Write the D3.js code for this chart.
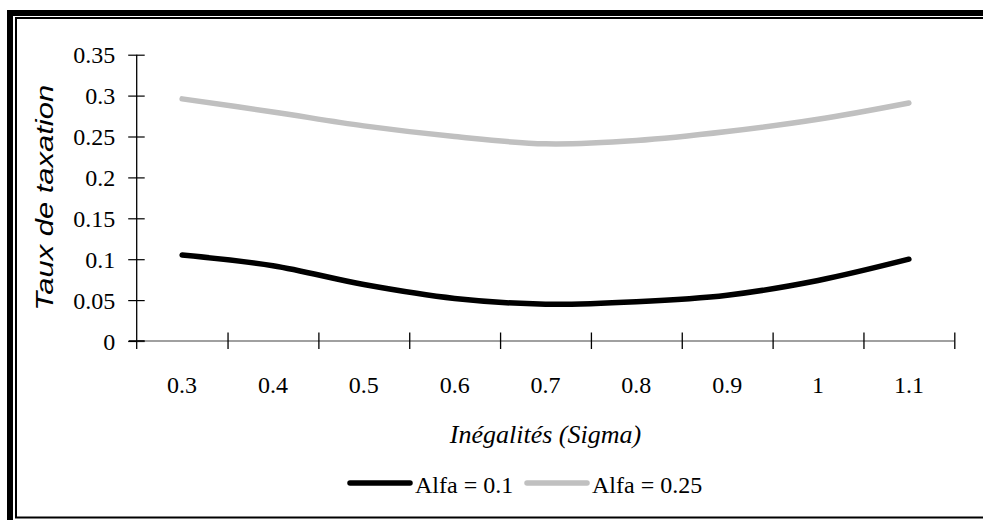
<!DOCTYPE html>
<html>
<head>
<meta charset="utf-8">
<script src="https://cdn.jsdelivr.net/npm/d3@7"></script>
<style>
html,body{margin:0;padding:0;background:#fff;overflow:hidden;}
svg{display:block;}
</style>
</head>
<body>
<svg id="chart" width="983" height="520"></svg>
<script>
const categories = ["0.3","0.4","0.5","0.6","0.7","0.8","0.9","1","1.1"];
const alfa01  = [0.105, 0.092, 0.069, 0.052, 0.045, 0.048, 0.056, 0.074, 0.100];
const alfa025 = [0.296, 0.280, 0.263, 0.250, 0.241, 0.245, 0.256, 0.271, 0.291];
const yTicks = [0, 0.05, 0.1, 0.15, 0.2, 0.25, 0.3, 0.35];
const yTickLabels = ["0","0.05","0.1","0.15","0.2","0.25","0.3","0.35"];
const seriesNames = ["Alfa = 0.1", "Alfa = 0.25"];
const seriesColors = ["#000000", "#c0c0c0"];
const xTitle = "Inégalités (Sigma)";
const yTitle = "Taux de taxation";

const svg = d3.select("#chart");
const serif = "'Liberation Serif','Times New Roman',serif";
const sans = "'Liberation Sans',Arial,sans-serif";

// frame
svg.append("rect").attr("x",10).attr("y",13).attr("width",1000).attr("height",510)
  .attr("fill","none").attr("stroke","#000").attr("stroke-width",6);
svg.append("rect").attr("x",16).attr("y",18).attr("width",990).attr("height",499.5)
  .attr("fill","none").attr("stroke","#000").attr("stroke-width",2);

const L = 136.7, R = 954.3, T = 54.7, B = 341;
const x = d3.scaleBand().domain(categories).range([L, R]);
const xb = d3.scaleLinear().domain([0, categories.length]).range([L, R]);
const y = d3.scaleLinear().domain([0, 0.35]).range([B, T]);

// y axis
const gy = svg.append("g").attr("transform", `translate(${L},0)`)
  .call(d3.axisLeft(y).tickValues(yTicks).tickFormat((d,i)=>yTickLabels[i]).tickSize(8).tickPadding(14));
gy.select(".domain").remove();
gy.selectAll(".tick line").attr("x1", 8).attr("x2", -8.5).attr("stroke","#000").attr("stroke-width",1.2);
gy.selectAll(".tick text").attr("font-family", serif).attr("font-size", 24).attr("fill","#000")
  .attr("x", -21.5).attr("dy","0.34em");
svg.append("line").attr("x1",L).attr("x2",L).attr("y1",T).attr("y2",B+8)
  .attr("stroke","#000").attr("stroke-width",1.3);

// x axis line (gray)
svg.append("line").attr("x1",L).attr("x2",R).attr("y1",B).attr("y2",B)
  .attr("stroke","#808080").attr("stroke-width",1.6);
// boundary ticks
const gxb = svg.append("g").attr("transform", `translate(0,${B})`)
  .call(d3.axisBottom(xb).tickValues(d3.range(1, categories.length+1)).tickSize(8).tickFormat(""));
gxb.select(".domain").remove();
gxb.selectAll(".tick line").attr("y1",-8.5).attr("y2",8).attr("stroke","#000").attr("stroke-width",1.3);
// zero tick bold
svg.append("line").attr("x1",L-8).attr("x2",L+8).attr("y1",B).attr("y2",B).attr("stroke","#000").attr("stroke-width",1.6);

// category labels
const gx = svg.append("g").attr("transform", `translate(0,${B})`)
  .call(d3.axisBottom(x).tickSize(0));
gx.select(".domain").remove();
gx.selectAll(".tick text").attr("font-family", serif).attr("font-size", 24).attr("fill","#000")
  .attr("y", 52).attr("dy", 0);

// titles
svg.append("text").attr("x",(L+R)/2).attr("y",443).attr("text-anchor","middle")
  .attr("font-family",serif).attr("font-style","italic").attr("font-size",26).text(xTitle);
svg.append("text").attr("transform",`translate(53,${(T+B)/2}) rotate(-90)`).attr("text-anchor","middle")
  .attr("font-family",sans).attr("font-style","italic").attr("font-size",24)
  .attr("textLength",226).attr("lengthAdjust","spacingAndGlyphs").text(yTitle);

// lines
const line = d3.line().x((d,i)=>x(categories[i]) + x.bandwidth()/2).y(d=>y(d)).curve(d3.curveCatmullRom.alpha(0.5));
[alfa01, alfa025].forEach((s,k)=>{
  svg.append("path").datum(s).attr("d",line).attr("fill","none")
    .attr("stroke",seriesColors[k]).attr("stroke-width",5.5).attr("stroke-linecap","round").attr("stroke-linejoin","round");
});

// legend
const legX = [350, 527], legTX = [415, 592];
seriesNames.forEach((n,k)=>{
  svg.append("line").attr("x1",legX[k]).attr("x2",legX[k]+60).attr("y1",483).attr("y2",483)
    .attr("stroke",seriesColors[k]).attr("stroke-width",5.5).attr("stroke-linecap","round");
  svg.append("text").attr("x",legTX[k]).attr("y",493).attr("font-family",serif).attr("font-size",24).text(n);
});
</script>
</body>
</html>
